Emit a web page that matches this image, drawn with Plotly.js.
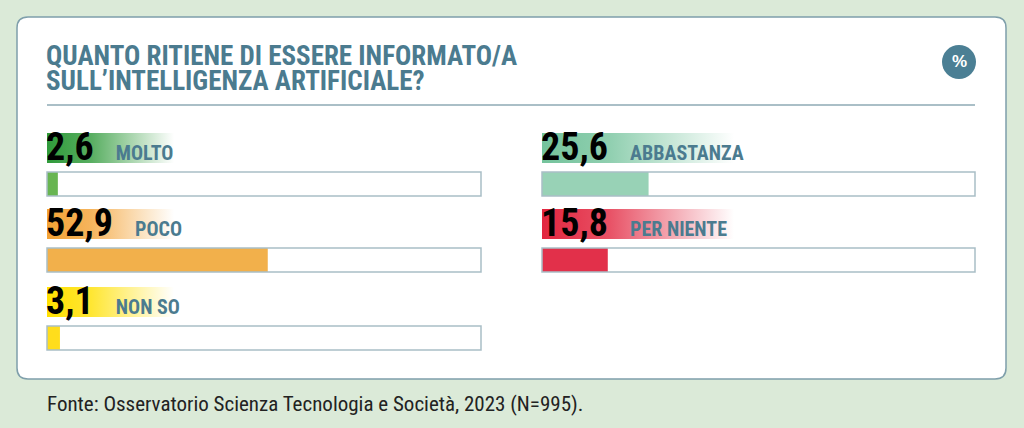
<!DOCTYPE html>
<html><head><meta charset="utf-8">
<script src="https://cdn.plot.ly/plotly-3.0.1.min.js"></script>
<style>html,body{margin:0;padding:0;background:#dbead8}</style>
</head><body><div id="chart" style="width:1024px;height:428px"></div>
<script>
// ---- data ----
const categories = ['MOLTO', 'POCO', 'NON SO', 'ABBASTANZA', 'PER NIENTE'];
const values = [2.6, 52.9, 3.1, 25.6, 15.8];
const barColors = ['#68b551', '#f2b04b', '#ffdd1c', '#98d2b6', '#e2304a'];
const glowColors = ['#2f9a3a', '#f3a235', '#ffe000', '#74c39c', '#e2263f'];
const titleLines = ['QUANTO RITIENE DI ESSERE INFORMATO/A', 'SULL\u2019INTELLIGENZA ARTIFICIALE?'];
const unitLabel = '%';
const sourceNote = 'Fonte: Osservatorio Scienza Tecnologia e Societ\u00e0, 2023 (N=995).';

// ---- layout constants ----
const W = 1024, H = 428;
const px = x => x / W, py = y => 1 - y / H;
const slotCol = [0, 0, 0, 1, 1];
const slotRow = [0, 1, 2, 0, 1];
const colX = [[47, 481], [542, 975]];
const rowTop = [172, 248, 326];
const trackH = 24;
const glowW = [127, 192];
const COND = '"Roboto Condensed", Roboto, sans-serif';
const TEAL = '#4b7b8f';

const traces = [], shapes = [], annotations = [], images = [];
const layout = {
  width: W, height: H, margin: {l: 0, r: 0, t: 0, b: 0},
  paper_bgcolor: '#dbead8', plot_bgcolor: 'rgba(0,0,0,0)',
  showlegend: false, hovermode: false,
  shapes, annotations, images
};

// card
(function () {
  const x0 = 17, x1 = 1006, y0 = 17, y1 = 379, r = 11;
  const d = [
    'M', px(x0 + r), py(y0), 'L', px(x1 - r), py(y0),
    'Q', px(x1), py(y0), px(x1), py(y0 + r),
    'L', px(x1), py(y1 - r),
    'Q', px(x1), py(y1), px(x1 - r), py(y1),
    'L', px(x0 + r), py(y1),
    'Q', px(x0), py(y1), px(x0), py(y1 - r),
    'L', px(x0), py(y0 + r),
    'Q', px(x0), py(y0), px(x0 + r), py(y0), 'Z'
  ].join(' ');
  shapes.push({type: 'path', xref: 'paper', yref: 'paper', path: d, fillcolor: '#ffffff',
    line: {color: '#7f9fab', width: 1.5}, layer: 'below'});
})();

// title
titleLines.forEach((t, i) => {
  annotations.push({xref: 'paper', yref: 'paper', x: px(45), y: py(67 + i * 25 + 6),
    xanchor: 'left', yanchor: 'bottom', showarrow: false, borderpad: 0, text: t,
    font: {family: COND, size: 27, color: TEAL, weight: 'bold'}});
});
// rule
shapes.push({type: 'line', xref: 'paper', yref: 'paper', x0: px(47), x1: px(975), y0: py(105), y1: py(105),
  line: {color: '#8eaab4', width: 1.5}});
// unit circle
shapes.push({type: 'circle', xref: 'paper', yref: 'paper', x0: px(942), x1: px(976), y0: py(45), y1: py(79),
  fillcolor: '#4b7f94', line: {width: 0}});
annotations.push({xref: 'paper', yref: 'paper', x: px(959), y: py(62), xanchor: 'center', yanchor: 'middle',
  showarrow: false, text: unitLabel, font: {family: '"Liberation Sans", sans-serif', size: 17, color: '#ffffff', weight: 'bold'}});

// items
categories.forEach((cat, i) => {
  const k = i + 1;
  const xa = 'xaxis' + (k === 1 ? '' : k), ya = 'yaxis' + (k === 1 ? '' : k);
  const xid = 'x' + (k === 1 ? '' : k), yid = 'y' + (k === 1 ? '' : k);
  const cx = colX[slotCol[i]], top = rowTop[slotRow[i]];
  layout[xa] = {domain: [px(cx[0]), px(cx[1])], range: [0, 104], visible: false, fixedrange: true, anchor: yid};
  layout[ya] = {domain: [py(top + trackH), py(top)], range: [-0.5, 0.5], visible: false, fixedrange: true, anchor: xid};
  shapes.push({type: 'rect', xref: xid + ' domain', yref: yid + ' domain', x0: 0, x1: 1, y0: 0, y1: 1,
    fillcolor: '#ffffff', line: {width: 0}, layer: 'below'});
  traces.push({type: 'bar', orientation: 'h', x: [values[i]], y: [0], width: [1],
    xaxis: xid, yaxis: yid, marker: {color: barColors[i], line: {width: 0}}, hoverinfo: 'skip'});
  shapes.push({type: 'rect', xref: xid + ' domain', yref: yid + ' domain', x0: 0, x1: 1, y0: 0, y1: 1,
    fillcolor: 'rgba(0,0,0,0)', line: {color: '#a9bec6', width: 1.5}, layer: 'above'});
  // glow gradient behind number
  const gw = glowW[slotCol[i]];
  const svg = '<svg xmlns="http://www.w3.org/2000/svg" width="200" height="30" viewBox="0 0 200 30" preserveAspectRatio="none">' +
    '<defs><linearGradient id="g" x1="0" y1="0" x2="1" y2="0">' +
    '<stop offset="0" stop-color="' + glowColors[i] + '" stop-opacity="1"/>' +
    '<stop offset="0.35" stop-color="' + glowColors[i] + '" stop-opacity="0.8"/>' +
    '<stop offset="1" stop-color="' + glowColors[i] + '" stop-opacity="0"/>' +
    '</linearGradient></defs><rect x="0" y="0" width="200" height="30" fill="url(#g)"/></svg>';
  images.push({source: 'data:image/svg+xml;charset=utf-8,' + encodeURIComponent(svg),
    xref: 'paper', yref: 'paper', x: px(cx[0]), y: py(top - 39), sizex: gw / W, sizey: 30 / H,
    xanchor: 'left', yanchor: 'top', sizing: 'stretch', layer: 'above'});
  const num = values[i].toFixed(1).replace('.', ',');
  annotations.push({xref: 'paper', yref: 'paper', x: px(cx[0] - 2), y: py(top - 10 + 8),
    xanchor: 'left', yanchor: 'bottom', showarrow: false, borderpad: 0,
    text: num + '&nbsp;&nbsp;<span style="font-size:20px;color:' + TEAL + '">&nbsp;' + cat + '</span>',
    font: {family: COND, size: 38, color: '#000000', weight: 'bold'}});
});

// source
annotations.push({xref: 'paper', yref: 'paper', x: px(46), y: py(412 + 5), xanchor: 'left', yanchor: 'bottom',
  showarrow: false, borderpad: 0, text: sourceNote,
  font: {family: COND, size: 21, color: '#222222'}});

Plotly.newPlot('chart', traces, layout, {displayModeBar: false, staticPlot: true});
</script></body></html>
